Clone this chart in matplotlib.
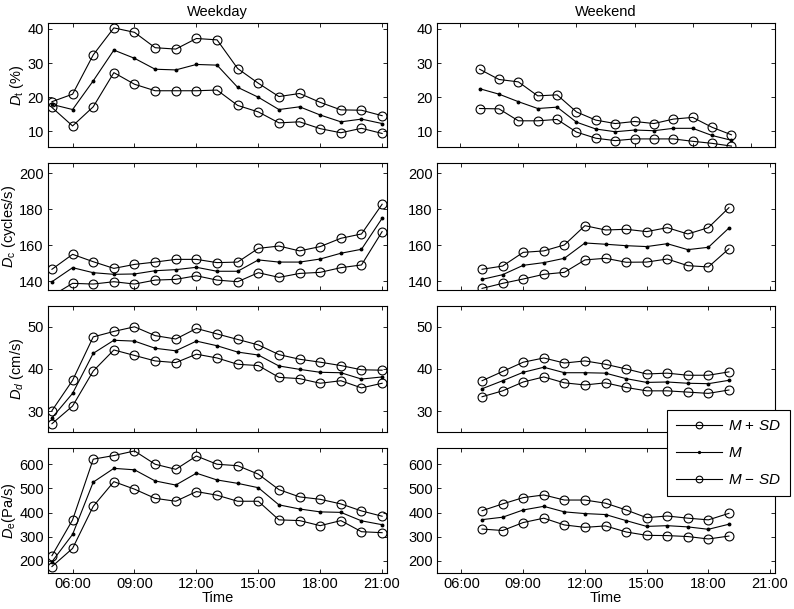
import matplotlib
matplotlib.use('Agg')
import matplotlib.pyplot as plt
from matplotlib.ticker import FuncFormatter

plt.rcParams['font.family'] = ['Liberation Sans', 'DejaVu Sans']
plt.rcParams['mathtext.fontset'] = 'custom'
plt.rcParams['mathtext.rm'] = 'Liberation Sans'
plt.rcParams['mathtext.it'] = 'Liberation Sans:italic'

# hours of day
hours_wd = list(range(5, 22))        # weekday 05:00 - 21:00
hours_we = list(range(7, 20))        # weekend 07:00 - 19:00
hours_we_dt = list(range(7, 21))     # weekend Dt panel 07:00 - 20:00

# D_t (%)
dt_wd_hi = [18.7, 20.9, 32.4, 40.3, 39.0, 34.5, 34.1, 37.2, 36.8, 28.4, 24.1, 20.2, 21.1, 18.5, 16.3, 16.2, 14.6]
dt_wd_m = [17.9, 16.4, 24.8, 33.8, 31.4, 28.2, 28.0, 29.6, 29.4, 22.9, 20.0, 16.4, 17.2, 14.8, 12.8, 13.6, 12.3]
dt_wd_lo = [17.0, 11.6, 17.2, 27.2, 23.8, 21.9, 21.9, 21.9, 22.1, 17.6, 15.7, 12.5, 12.8, 10.8, 9.6, 10.9, 9.4]
dt_we_hi = [28.2, 25.2, 24.5, 20.4, 20.7, 15.7, 13.3, 12.3, 12.9, 12.3, 13.6, 14.1, 11.2, 9.0]
dt_we_m = [22.5, 20.9, 18.7, 16.7, 17.1, 12.7, 10.7, 9.9, 10.4, 10.2, 10.9, 10.9, 8.8, 7.4]
dt_we_lo = [16.7, 16.6, 13.1, 13.1, 13.5, 9.8, 8.0, 7.3, 7.8, 7.8, 7.8, 7.1, 6.5, 5.7]

# D_c (cycles/s)
dc_wd_hi = [146.7, 155.0, 150.9, 147.2, 149.4, 150.7, 152.2, 152.2, 150.4, 150.7, 158.3, 159.6, 156.9, 159.3, 163.9, 166.3, 182.8]
dc_wd_m = [139.8, 147.6, 144.8, 143.9, 144.1, 145.9, 146.5, 147.8, 145.6, 145.6, 151.9, 150.7, 150.7, 152.4, 155.6, 157.8, 175.0]
dc_wd_lo = [132.0, 138.9, 138.5, 139.8, 138.5, 140.7, 141.1, 143.1, 140.7, 139.8, 144.8, 142.2, 144.4, 145.0, 147.6, 149.1, 167.6]
dc_we_hi = [146.7, 148.5, 156.1, 156.9, 160.2, 170.9, 168.5, 168.9, 167.6, 169.8, 166.3, 169.8, 180.9]
dc_we_m = [141.1, 143.7, 148.9, 150.4, 152.8, 161.3, 160.6, 159.8, 159.3, 160.9, 157.6, 158.9, 169.6]
dc_we_lo = [136.1, 138.9, 141.3, 143.9, 145.0, 151.9, 152.8, 150.6, 150.7, 152.4, 148.7, 148.0, 158.1]

# D_d (cm/s)
dd_wd_hi = [30.1, 37.3, 47.6, 48.9, 50.0, 47.9, 47.1, 49.6, 48.3, 47.0, 45.7, 43.4, 42.3, 41.6, 40.8, 39.8, 39.7]
dd_wd_m = [28.4, 34.2, 43.7, 46.8, 46.6, 44.9, 44.3, 46.6, 45.5, 44.0, 43.3, 40.7, 39.9, 39.2, 39.1, 37.6, 38.1]
dd_wd_lo = [27.0, 31.2, 39.5, 44.5, 43.2, 41.9, 41.5, 43.5, 42.6, 41.1, 40.8, 38.0, 37.7, 36.6, 37.2, 35.5, 36.6]
dd_we_hi = [37.2, 39.4, 41.6, 42.6, 41.4, 41.9, 41.1, 40.0, 38.8, 39.0, 38.5, 38.5, 39.3]
dd_we_m = [35.3, 37.2, 39.2, 40.4, 39.1, 39.1, 39.0, 37.7, 36.8, 36.9, 36.6, 36.5, 37.3]
dd_we_lo = [33.4, 34.8, 36.9, 38.1, 36.7, 36.2, 36.7, 35.6, 34.8, 34.8, 34.5, 34.2, 35.0]

# D_e (Pa/s)
de_wd_hi = [222, 370, 621, 636, 655, 600, 579, 634, 600, 594, 559, 495, 465, 455, 436, 407, 385]
de_wd_m = [197, 310, 526, 583, 577, 531, 514, 563, 535, 521, 503, 432, 415, 403, 401, 366, 350]
de_wd_lo = [177, 252, 426, 528, 497, 459, 447, 487, 472, 447, 447, 370, 367, 346, 367, 321, 317]
de_we_hi = [408, 436, 462, 473, 452, 452, 439, 411, 379, 386, 377, 370, 397]
de_we_m = [371, 381, 411, 426, 403, 396, 392, 367, 343, 346, 341, 331, 352]
de_we_lo = [332, 326, 359, 377, 349, 339, 345, 320, 306, 305, 301, 291, 303]

ylabels = [r'$D_\mathrm{t}$ (%)', r'$D_\mathrm{c}$ (cycles/s)', r'$D_d$ (cm/s)', r'$D_\mathrm{e}$(Pa/s)']
ylims = [(5.5, 41.8), (135.2, 205.5), (25.1, 55), (149, 666)]
yticks = [[10, 20, 30, 40], [140, 160, 180, 200], [30, 40, 50], [200, 300, 400, 500, 600]]
xticks = [6, 9, 12, 15, 18, 21]

panels = [
    [(hours_wd, dt_wd_hi, dt_wd_m, dt_wd_lo), (hours_we_dt, dt_we_hi, dt_we_m, dt_we_lo)],
    [(hours_wd, dc_wd_hi, dc_wd_m, dc_wd_lo), (hours_we, dc_we_hi, dc_we_m, dc_we_lo)],
    [(hours_wd, dd_wd_hi, dd_wd_m, dd_wd_lo), (hours_we, dd_we_hi, dd_we_m, dd_we_lo)],
    [(hours_wd, de_wd_hi, de_wd_m, de_wd_lo), (hours_we, de_we_hi, de_we_m, de_we_lo)],
]

fig = plt.figure(figsize=(7.94, 6.09), dpi=100)

# axes placement in figure fractions
col_left = [0.0605, 0.5504]
col_width = [0.427, 0.4257]
row_bottom = [0.759, 0.5238, 0.2911, 0.0586]
row_height = [0.2036, 0.208, 0.2069, 0.2053]

fs = 10.5
handles = None
for r in range(4):
    for c in range(2):
        ax = fig.add_axes([col_left[c], row_bottom[r], col_width[c], row_height[r]])
        x, hi, m, lo = panels[r][c]
        h1, = ax.plot(x, hi, '-o', color='black', lw=0.8, ms=6.4, mfc='none', mew=0.8, label='$M$ + $SD$')
        h2, = ax.plot(x, m, '-o', color='black', lw=0.8, ms=1.8, label='$M$')
        h3, = ax.plot(x, lo, '-o', color='black', lw=0.8, ms=6.4, mfc='none', mew=0.8, label='$M$ \u2212 $SD$')
        handles = [h1, h2, h3]

        if r == 0 and c == 1:
            ax.set_xlim(4.8, 22.25)
        else:
            ax.set_xlim(4.81, 21.24)
        ax.set_ylim(*ylims[r])
        ax.set_xticks(xticks)
        ax.set_yticks(yticks[r])
        ax.xaxis.set_major_formatter(FuncFormatter(lambda v, p: '%02d:00' % int(round(v))))
        ax.tick_params(direction='in', top=True, right=True, length=3, width=0.6,
                       labelsize=fs, colors='black', pad=3)
        if r < 3:
            ax.tick_params(labelbottom=False)
        else:
            ax.set_xlabel('Time', fontsize=fs, labelpad=0)
        if c == 0:
            ax.set_ylabel(ylabels[r], fontsize=fs, labelpad=1)
        for s in ax.spines.values():
            s.set_linewidth(0.8)
        if r == 0:
            ax.set_title('Weekday' if c == 0 else 'Weekend', fontsize=fs, pad=5)

leg = fig.legend(handles=handles, loc='upper left', bbox_to_anchor=(0.840, 0.3268),
                 borderaxespad=0, fontsize=11, frameon=True, fancybox=False,
                 edgecolor='black', framealpha=1,
                 handlelength=3.0, labelspacing=0.85, borderpad=0.6, handletextpad=0.4,
                 markerscale=0.75)
leg.get_frame().set_linewidth(0.8)

fig.savefig('out.png', dpi=100)
